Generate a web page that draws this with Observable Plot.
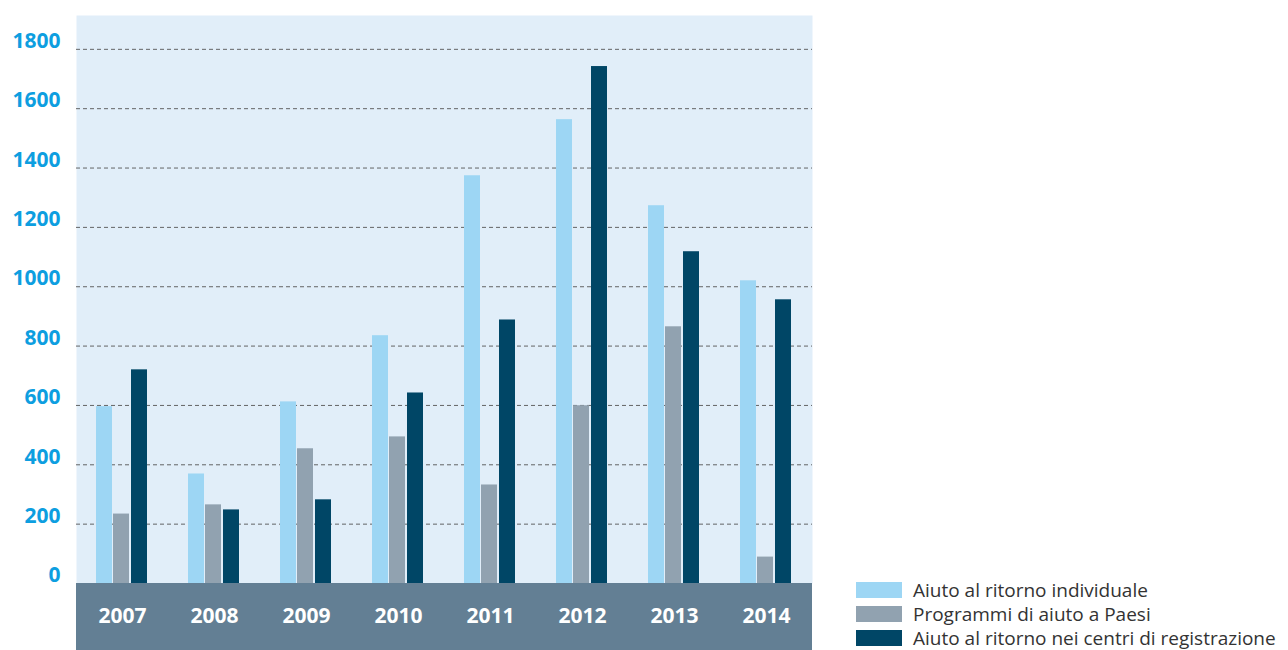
<!DOCTYPE html>
<html>
<head>
<meta charset="utf-8">
<script src="https://cdn.jsdelivr.net/npm/d3@7"></script>
<script src="https://cdn.jsdelivr.net/npm/@observablehq/plot@0.6"></script>
<style>
  html, body { margin: 0; padding: 0; background: #fff; }
  #wrap { position: relative; width: 1288px; height: 650px; overflow: hidden; font-family: "Open Sans", "Noto Sans", sans-serif; }
  #legend { position: absolute; left: 856px; top: 578px; font-size: 19px; color: #333; line-height: 24px; white-space: nowrap; }
  #legend .row { display: flex; align-items: center; height: 24px; }
  #legend .sw { width: 46px; height: 16px; margin-right: 11px; flex: none; }
</style>
</head>
<body>
<div id="wrap"></div>
<script>
const years = ["2007", "2008", "2009", "2010", "2011", "2012", "2013", "2014"];
const seriesNames = ["Aiuto al ritorno individuale", "Programmi di aiuto a Paesi", "Aiuto al ritorno nei centri di registrazione"];
const individuale = [596, 369, 612, 835, 1374, 1563, 1273, 1020];
const programmi = [234, 265, 454, 494, 332, 599, 865, 89];
const centri = [720, 248, 282, 642, 888, 1742, 1118, 956];
const yTicks = [0, 200, 400, 600, 800, 1000, 1200, 1400, 1600, 1800];
const colors = ["#9dd6f4", "#91a2b0", "#004666"];

const W = 1288, H = 650, mL = 76, mR = 476, mT = 15, mB = 67;

const rows = (vals) => years.map((y, i) => ({year: y, value: vals[i]}));

const band = () => {
  const r = d3.create("svg:rect")
    .attr("x", mL).attr("y", H - mB)
    .attr("width", W - mL - mR).attr("height", mB)
    .attr("fill", "#637f94");
  return r.node();
};

const chart = Plot.plot({
  width: W, height: H,
  marginLeft: mL, marginRight: mR, marginTop: mT, marginBottom: mB,
  style: {background: "transparent", fontFamily: "'Open Sans', 'Noto Sans', sans-serif"},
  x: {domain: years, padding: 0, label: null},
  y: {domain: [0, 1914], label: null},
  marks: [
    Plot.frame({fill: "#e1eef9", stroke: null}),
    Plot.gridY(yTicks.filter(d => d > 0), {stroke: "#555", strokeOpacity: 0.9, strokeDasharray: "4,3", strokeWidth: 1}),
    Plot.barY(rows(individuale), {x: "year", y: "value", fill: colors[0], insetLeft: 20, insetRight: 56}),
    Plot.barY(rows(programmi), {x: "year", y: "value", fill: colors[1], insetLeft: 37, insetRight: 39}),
    Plot.barY(rows(centri), {x: "year", y: "value", fill: colors[2], insetLeft: 55, insetRight: 21}),
    band,
    Plot.axisY(yTicks, {tickSize: 0, tickPadding: 16, fontSize: 21, fontWeight: "bold", fill: "#0d9ee0", dy: -8, tickFormat: d => String(d), label: null}),
    Plot.axisX({tickSize: 0, tickPadding: 25, fontSize: 21, fontWeight: "bold", fill: "#ffffff", label: null})
  ]
});

const wrap = document.getElementById("wrap");
wrap.appendChild(chart);

const legend = document.createElement("div");
legend.id = "legend";
seriesNames.forEach((name, i) => {
  const row = document.createElement("div");
  row.className = "row";
  const sw = document.createElement("span");
  sw.className = "sw";
  sw.style.background = colors[i];
  const t = document.createElement("span");
  t.textContent = name;
  row.appendChild(sw);
  row.appendChild(t);
  legend.appendChild(row);
});
wrap.appendChild(legend);
</script>
</body>
</html>
